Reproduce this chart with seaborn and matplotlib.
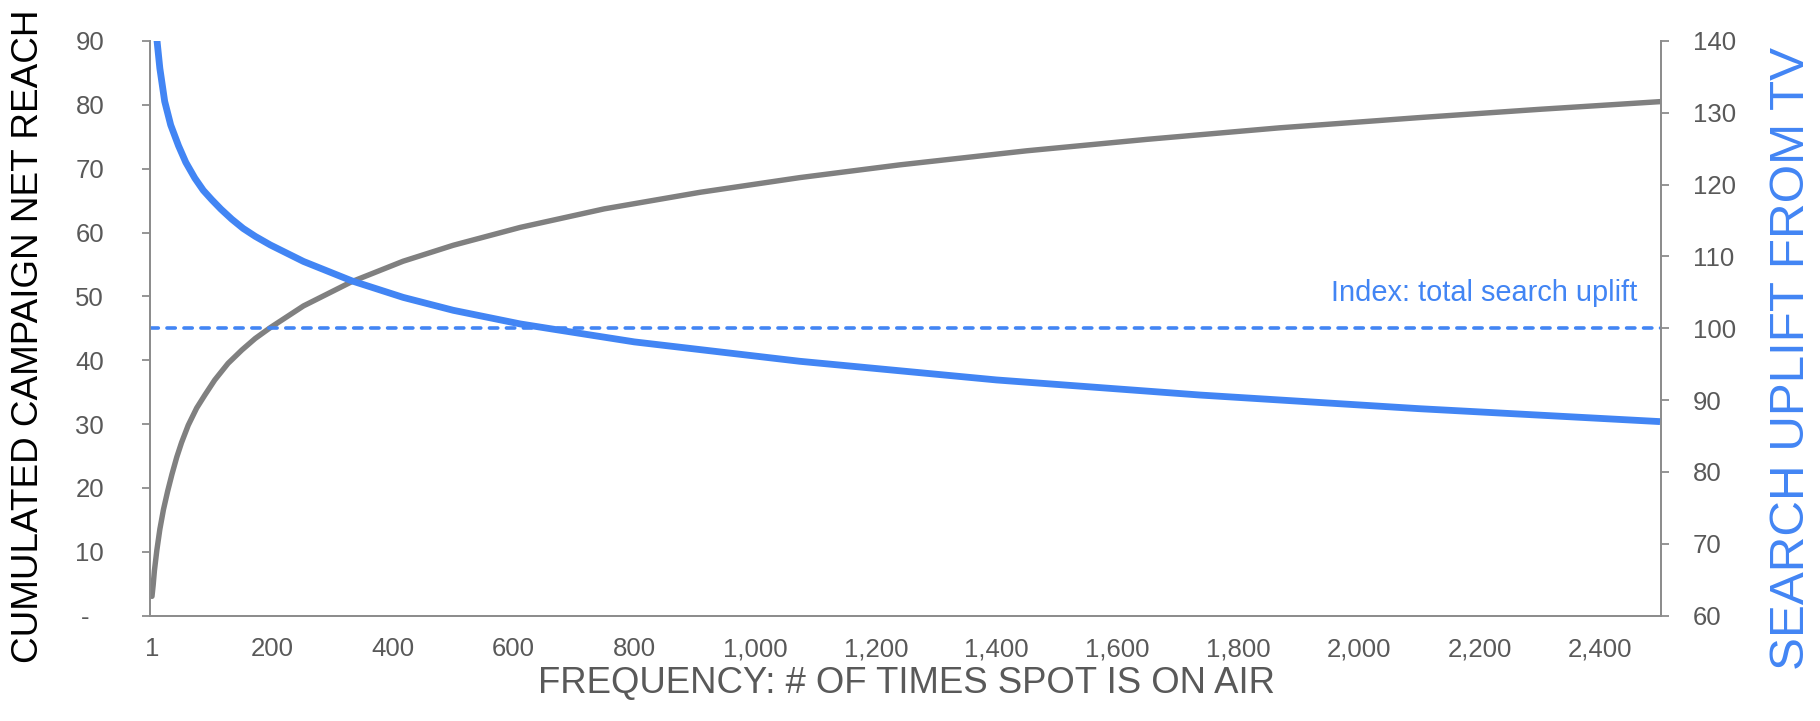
import matplotlib
matplotlib.use("Agg")
import matplotlib.pyplot as plt
import seaborn as sns
import pandas as pd
from matplotlib.ticker import FixedLocator, FuncFormatter

sns.set_style("white")
plt.rcParams["font.family"] = ["Liberation Sans", "DejaVu Sans"]

# Campaign reach (left axis) by number of airings
reach_freq = [1, 3, 5, 9, 14, 20, 27, 34, 42, 50, 61, 75, 89, 105, 127, 150, 172,
              197, 252, 332, 417, 500, 611, 750, 909, 1074, 1240, 1450, 1650, 1869,
              2100, 2300, 2499]
reach_pct = [3.0, 4.8, 7.0, 10.2, 13.5, 16.6, 19.5, 22.1, 24.8, 27.1, 29.8, 32.5,
             34.6, 36.9, 39.5, 41.6, 43.4, 45.1, 48.5, 52.3, 55.5, 58.0, 60.8, 63.7,
             66.3, 68.6, 70.6, 72.8, 74.6, 76.4, 78.0, 79.3, 80.5]

# Search uplift index (right axis) by number of airings
uplift_freq = [1, 3, 6, 9, 14, 22, 32, 45, 57, 72, 86, 100, 115, 133, 152, 172, 197,
               252, 332, 417, 500, 611, 671, 800, 1074, 1400, 1737, 2100, 2499]
uplift_idx = [161.0, 150.5, 144.3, 140.3, 136.2, 131.6, 128.3, 125.4, 123.1, 120.9,
              119.2, 117.9, 116.6, 115.2, 113.9, 112.8, 111.6, 109.3, 106.6, 104.3,
              102.5, 100.6, 99.8, 98.1, 95.4, 92.8, 90.7, 88.8, 87.0]

index_level = 100
x_ticks = [1, 200, 400, 600, 800, 1000, 1200, 1400, 1600, 1800, 2000, 2200, 2400]
left_ticks = [0, 10, 20, 30, 40, 50, 60, 70, 80, 90]
right_ticks = [60, 70, 80, 90, 100, 110, 120, 130, 140]

GRAY_LINE = "#808080"
BLUE = "#4285F4"
TICK_TXT = "#595959"
SPINE = "#8C8C8C"

title_font = ["Liberation Sans Narrow", "Liberation Sans", "DejaVu Sans"]

fig = plt.figure(figsize=(18.2, 7.21), dpi=100)
ax = fig.add_axes([150 / 1820, 1 - 615.5 / 721, (1661 - 150) / 1820, (615.5 - 41) / 721])
ax2 = ax.twinx()

reach_df = pd.DataFrame({"freq": reach_freq, "reach": reach_pct})
uplift_df = pd.DataFrame({"freq": uplift_freq, "uplift": uplift_idx})

sns.lineplot(data=reach_df, x="freq", y="reach", ax=ax, color=GRAY_LINE,
             linewidth=3.9, solid_capstyle="round", zorder=3)
sns.lineplot(data=uplift_df, x="freq", y="uplift", ax=ax2, color=BLUE,
             linewidth=4.9, solid_capstyle="butt", zorder=3)
ax2.axhline(index_level, color=BLUE, linewidth=2.6, dashes=(2.3, 2.4),
            dash_capstyle="round", zorder=2)
ax2.text(2461, 104.9, "Index: total search uplift", color=BLUE, fontsize=20.9,
         ha="right", va="center")

ax.set_xlim(-2.3, 2500.6)
ax.set_ylim(0, 90)
ax2.set_ylim(60, 140)

ax.xaxis.set_major_locator(FixedLocator(x_ticks))
ax.xaxis.set_major_formatter(FuncFormatter(lambda v, p: f"{int(v):,}"))
ax.yaxis.set_major_locator(FixedLocator(left_ticks))
ax.yaxis.set_major_formatter(FuncFormatter(lambda v, p: "-  " if v == 0 else f"{int(v)}"))
ax2.yaxis.set_major_locator(FixedLocator(right_ticks))

for a in (ax, ax2):
    a.set_xlabel("")
    a.set_ylabel("")
    for s in a.spines.values():
        s.set_color(SPINE)
        s.set_linewidth(1.3)
    a.spines["top"].set_visible(False)
    a.grid(False)

ax.tick_params(axis="x", length=0, pad=15.5, labelsize=18.5, labelcolor=TICK_TXT)
ax.tick_params(axis="y", direction="out", length=6, width=1.3, color=SPINE,
               pad=27, labelsize=18.5, labelcolor=TICK_TXT, left=True)
ax2.tick_params(axis="y", direction="out", length=6, width=1.3, color=SPINE,
                pad=17, labelsize=18.5, labelcolor=TICK_TXT, right=True)

fig.text(29 / 1820, 1 - 336 / 721, "CUMULATED CAMPAIGN NET REACH", rotation=90,
         ha="center", va="center", fontsize=26.6, color="#000000", family=title_font)
fig.text(1792 / 1820, 1 - 358 / 721, "SEARCH UPLIFT FROM TV", rotation=90,
         ha="center", va="center", fontsize=35.6, color=BLUE, family=title_font)
fig.text(907 / 1820, 1 - 683 / 721, "FREQUENCY: # OF TIMES SPOT IS ON AIR",
         ha="center", va="center", fontsize=26.3, color=TICK_TXT, family=title_font)

fig.savefig("out.png", dpi=100, facecolor="white")
